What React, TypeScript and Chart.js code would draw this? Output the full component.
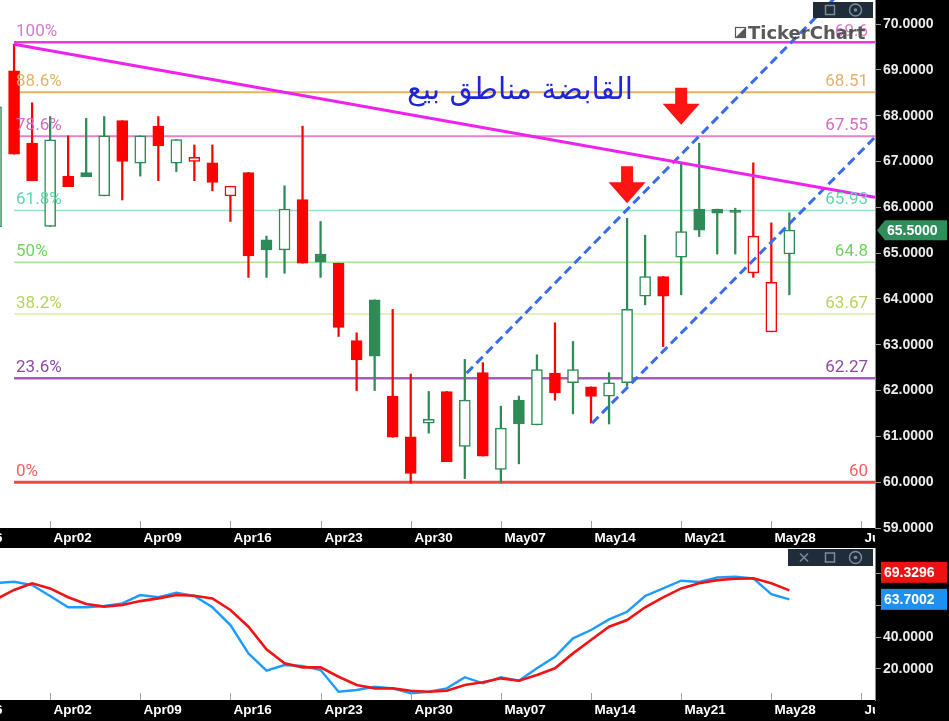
import React, { useEffect, useRef } from 'react';
import { Chart, registerables } from 'chart.js';

Chart.register(...registerables);

// ---------- DATA ----------
const dayIndex = [-1, 0, 1, 2, 3, 4, 5, 6, 7, 8, 9, 10, 11, 12, 13, 14, 15, 16, 17, 18, 19, 20, 21, 22, 23, 24, 25, 26, 27, 28, 29, 30, 31, 32, 33, 34, 35, 36, 37, 38, 39, 40, 41, 42, 43];
const opens = [65.57, 68.98, 67.40, 65.58, 66.68, 66.76, 66.25, 67.89, 66.96, 67.77, 66.96, 67.00, 66.97, 66.25, 66.76, 65.29, 65.07, 66.17, 64.98, 64.78, 63.09, 63.98, 61.88, 60.99, 61.29, 61.98, 60.78, 62.39, 60.28, 61.79, 61.25, 62.38, 62.17, 62.08, 61.88, 62.17, 64.06, 64.49, 64.91, 65.96, 65.96, 65.91, 64.57, 63.28, 64.98];
const highs = [68.40, 69.56, 68.28, 67.98, 67.56, 67.94, 67.98, 67.89, 67.56, 67.98, 67.48, 67.36, 67.36, 66.46, 66.76, 65.37, 66.47, 67.77, 65.69, 64.78, 63.26, 63.98, 63.77, 62.36, 61.98, 61.98, 62.68, 62.61, 61.66, 61.88, 62.78, 63.48, 63.07, 62.08, 62.39, 65.76, 65.39, 64.49, 66.96, 67.40, 65.96, 65.98, 66.97, 65.66, 65.88];
const lows = [65.40, 67.16, 66.58, 65.58, 66.45, 66.67, 66.25, 66.16, 66.68, 66.58, 66.78, 66.58, 66.36, 65.69, 64.47, 64.47, 64.56, 64.78, 64.47, 63.18, 62.00, 62.00, 60.98, 59.98, 61.07, 60.45, 60.08, 60.57, 59.98, 60.40, 61.25, 61.79, 61.49, 61.29, 61.27, 62.10, 63.87, 62.96, 64.09, 65.36, 64.98, 64.98, 64.47, 63.28, 64.09];
const closes = [68.19, 67.16, 66.58, 67.47, 66.45, 66.67, 67.56, 67.00, 67.56, 67.34, 67.48, 67.09, 66.54, 66.46, 64.94, 65.07, 65.96, 64.78, 64.80, 63.38, 62.67, 62.75, 60.98, 60.19, 61.37, 60.45, 61.79, 60.57, 61.18, 61.27, 62.46, 61.95, 62.46, 61.87, 62.17, 63.77, 64.49, 64.06, 65.47, 65.50, 65.87, 65.89, 65.37, 64.36, 65.50];

const stochK = [74.0, 74.8, 72.7, 65.8, 58.7, 58.7, 59.5, 61.2, 66.4, 65.0, 67.9, 65.8, 58.7, 47.5, 29.7, 18.8, 22.4, 21.8, 19.2, 5.6, 6.7, 8.7, 7.7, 4.6, 5.6, 7.7, 14.7, 10.9, 14.7, 12.5, 20.3, 27.6, 39.2, 44.4, 51.1, 55.9, 65.8, 70.6, 75.4, 74.6, 77.5, 77.9, 76.9, 67.0, 63.7002];
const stochD = [63.7, 69.6, 73.8, 70.6, 65.0, 60.8, 59.1, 60.1, 62.6, 64.3, 66.4, 66.0, 64.3, 57.0, 46.5, 32.3, 23.5, 20.9, 20.9, 15.0, 9.8, 7.7, 7.7, 6.2, 5.6, 6.2, 9.8, 11.5, 14.0, 12.5, 16.1, 20.3, 29.7, 38.1, 46.5, 50.7, 58.7, 65.0, 70.6, 73.8, 75.8, 76.7, 76.9, 73.8, 69.3296];

const dateTickIndex = [-3, 2, 7, 12, 17, 22, 27, 32, 37, 42, 47];
const dateTickLabels = ['Mar26', 'Apr02', 'Apr09', 'Apr16', 'Apr23', 'Apr30', 'May07', 'May14', 'May21', 'May28', 'Jun04'];
const priceTicks = [59, 60, 61, 62, 63, 64, 65, 66, 67, 68, 69, 70];
const oscTicks = [20, 40, 60, 80];

const fibValues = [69.6, 68.51, 67.55, 65.93, 64.8, 63.67, 62.27, 60];
const fibPercentLabels = ['100%', '88.6%', '78.6%', '61.8%', '50%', '38.2%', '23.6%', '0%'];
const fibValueLabels = ['69.6', '68.51', '67.55', '65.93', '64.8', '63.67', '62.27', '60'];

const trendX = [0, 47.75];
const trendY = [69.56, 66.22];
const channelUpperX = [25.1, 45.6];
const channelUpperY = [62.38, 70.6];
const channelLowerX = [32.06, 47.75];
const channelLowerY = [61.29, 67.53];

const arrowIndex = [34, 37];
const arrowTipPrice = [66.09, 67.80];

const lastPrice = 65.5;
const annotationText = 'القابضة مناطق بيع';
const annotationIndex = 28.06;
const annotationPrice = 68.36;

// ---------- STYLE ----------
const W = 949;
const MAIN_H = 548;
const OSC_H = 173;
const X_MIN = -0.78;
const X_MAX = 47.75;
const GREEN = '#2e8b57';
const RED = '#ff0000';
const fibLineColors = ['#e23fd2', '#e6b25e', '#e77fcf', '#93e2c6', '#a9e595', '#d9eea4', '#a45fb4', '#f04848'];
const fibLabelColors = ['#d77ac8', '#e2b36c', '#d46bbf', '#5fd5a8', '#6fd35c', '#b6d35e', '#8f4aa3', '#f06262'];
const fibLineWidths = [2.5, 2, 2, 1.5, 1.5, 1.5, 2.5, 3];

function candleColor(k: number) {
  if (k === 0) return GREEN;
  return closes[k] >= closes[k - 1] ? GREEN : RED;
}

function drawDateAxis(chart: any) {
  const { ctx, chartArea: ca, scales } = chart;
  const x = scales.x;
  ctx.save();
  ctx.beginPath();
  ctx.rect(0, 0, ca.right, chart.height);
  ctx.clip();
  ctx.strokeStyle = '#a0a0a0';
  ctx.lineWidth = 1;
  ctx.font = 'bold 13.5px "Liberation Sans", Arial, sans-serif';
  ctx.fillStyle = '#ffffff';
  ctx.textBaseline = 'middle';
  ctx.textAlign = 'left';
  dateTickIndex.forEach((d, k) => {
    const px = Math.round(x.getPixelForValue(d)) + 0.5;
    ctx.beginPath();
    ctx.moveTo(px, ca.bottom - 7);
    ctx.lineTo(px, ca.bottom);
    ctx.stroke();
    ctx.fillText(dateTickLabels[k], px + 3, ca.bottom + 10.5);
  });
  ctx.restore();
}

function drawToolbar(ctx: any, left: number, top: number, right: number, bottom: number, withClose: boolean) {
  ctx.save();
  ctx.fillStyle = '#1f2d3a';
  ctx.fillRect(left, top, right - left, bottom - top);
  ctx.strokeStyle = '#7d8b97';
  ctx.fillStyle = '#7d8b97';
  ctx.lineWidth = 1.5;
  const cy = (top + bottom) / 2;
  if (withClose) {
    ctx.beginPath();
    ctx.moveTo(800, cy - 4); ctx.lineTo(808, cy + 4);
    ctx.moveTo(808, cy - 4); ctx.lineTo(800, cy + 4);
    ctx.stroke();
  }
  ctx.strokeRect(825.5, cy - 4.5, 9, 9);
  ctx.beginPath();
  ctx.arc(855.5, cy, 6, 0, Math.PI * 2);
  ctx.stroke();
  ctx.beginPath();
  ctx.arc(855.5, cy, 1.8, 0, Math.PI * 2);
  ctx.fill();
  ctx.restore();
}

function drawDownArrow(ctx: any, cx: number, tipY: number) {
  const headH = 21, headW = 37, shaftW = 12, shaftH = 16;
  ctx.beginPath();
  ctx.moveTo(cx - shaftW / 2, tipY - headH - shaftH);
  ctx.lineTo(cx + shaftW / 2, tipY - headH - shaftH);
  ctx.lineTo(cx + shaftW / 2, tipY - headH);
  ctx.lineTo(cx + headW / 2, tipY - headH);
  ctx.lineTo(cx, tipY);
  ctx.lineTo(cx - headW / 2, tipY - headH);
  ctx.lineTo(cx - shaftW / 2, tipY - headH);
  ctx.closePath();
  ctx.fill();
}

const mainDecor = {
  id: 'mainDecor',
  beforeDraw(chart: any) {
    const { ctx, width, height, chartArea: ca } = chart;
    ctx.save();
    ctx.fillStyle = '#ffffff';
    ctx.fillRect(0, 0, width, height);
    ctx.fillStyle = '#000000';
    ctx.fillRect(ca.right, 0, width - ca.right, height);
    ctx.fillRect(0, ca.bottom, width, height - ca.bottom);
    ctx.restore();
  },
  beforeDatasetsDraw(chart: any) {
    const { ctx, chartArea: ca, scales } = chart;
    const x = scales.x, y = scales.y;
    ctx.save();
    ctx.beginPath();
    ctx.rect(ca.left, ca.top, ca.right - ca.left, ca.bottom - ca.top);
    ctx.clip();
    const x0 = x.getPixelForValue(0);
    fibValues.forEach((v, k) => {
      const py = y.getPixelForValue(v);
      ctx.strokeStyle = fibLineColors[k];
      ctx.lineWidth = fibLineWidths[k];
      ctx.beginPath();
      ctx.moveTo(x0, py);
      ctx.lineTo(ca.right, py);
      ctx.stroke();
    });
    ctx.restore();
  },
  afterDatasetsDraw(chart: any) {
    const { ctx, chartArea: ca, scales } = chart;
    const x = scales.x, y = scales.y;
    ctx.save();
    // fib labels
    ctx.font = '17px Roboto, "Open Sans", sans-serif';
    ctx.textBaseline = 'alphabetic';
    const x0 = x.getPixelForValue(0);
    fibValues.forEach((v, k) => {
      const py = y.getPixelForValue(v);
      ctx.fillStyle = fibLabelColors[k];
      ctx.textAlign = 'left';
      ctx.fillText(fibPercentLabels[k], x0 + 2, py - 6);
      ctx.textAlign = 'right';
      ctx.fillText(fibValueLabels[k], ca.right - 7, py - 6);
    });
    // arrows
    ctx.fillStyle = '#ff1414';
    arrowIndex.forEach((d, k) => {
      drawDownArrow(ctx, x.getPixelForValue(d), y.getPixelForValue(arrowTipPrice[k]));
    });
    // arabic annotation
    const targetW = 226;
    let size = 34;
    ctx.font = `${size}px "DejaVu Sans", sans-serif`;
    const mw = ctx.measureText(annotationText).width;
    if (mw > 0) size = size * targetW / mw;
    ctx.font = `${size}px "DejaVu Sans", sans-serif`;
    ctx.fillStyle = '#1f25d8';
    ctx.textAlign = 'center';
    ctx.textBaseline = 'alphabetic';
    ctx.fillText(annotationText, x.getPixelForValue(annotationIndex), y.getPixelForValue(annotationPrice));
    ctx.restore();
  },
  afterDraw(chart: any) {
    const { ctx, chartArea: ca, scales, width } = chart;
    const y = scales.y;
    drawDateAxis(chart);
    // watermark
    ctx.save();
    ctx.fillStyle = 'rgba(70,70,70,0.9)';
    ctx.strokeStyle = 'rgba(70,70,70,0.9)';
    ctx.lineWidth = 1.2;
    ctx.strokeRect(735.5, 27.5, 10, 10);
    ctx.beginPath();
    ctx.moveTo(736, 37); ctx.lineTo(745, 37); ctx.lineTo(745, 28); ctx.closePath();
    ctx.fill();
    ctx.font = 'bold 18px "DejaVu Sans", sans-serif';
    ctx.textAlign = 'left';
    ctx.textBaseline = 'alphabetic';
    ctx.fillText('TickerChart', 748, 39);
    ctx.restore();
    // toolbar
    drawToolbar(ctx, 813, 2, ca.right - 2, 18, false);
    // last price label
    const py = y.getPixelForValue(lastPrice);
    ctx.save();
    ctx.fillStyle = '#2f8f5b';
    ctx.beginPath();
    ctx.moveTo(877, py);
    ctx.lineTo(885, py - 10);
    ctx.lineTo(width - 2, py - 10);
    ctx.lineTo(width - 2, py + 10);
    ctx.lineTo(885, py + 10);
    ctx.closePath();
    ctx.fill();
    ctx.fillStyle = '#ffffff';
    ctx.font = 'bold 14px "Liberation Sans", Arial, sans-serif';
    ctx.textAlign = 'left';
    ctx.textBaseline = 'middle';
    ctx.fillText(lastPrice.toFixed(4), 887, py + 0.5);
    ctx.restore();
  },
};

const oscDecor = {
  id: 'oscDecor',
  beforeDraw(chart: any) {
    const { ctx, width, height, chartArea: ca } = chart;
    ctx.save();
    ctx.fillStyle = '#ffffff';
    ctx.fillRect(0, 0, width, height);
    ctx.fillStyle = '#000000';
    ctx.fillRect(ca.right, 0, width - ca.right, height);
    ctx.fillRect(0, ca.bottom, width, height - ca.bottom);
    ctx.restore();
  },
  afterDraw(chart: any) {
    const { ctx, chartArea: ca, scales } = chart;
    const y = scales.y;
    drawDateAxis(chart);
    drawToolbar(ctx, 788, 1, ca.right - 2, 18, true);
    const kVal = stochK[stochK.length - 1];
    const dVal = stochD[stochD.length - 1];
    const yK = y.getPixelForValue(kVal);
    let yD = y.getPixelForValue(dVal);
    if (Math.abs(yD - yK) < 27) yD = yK - 27;
    const boxes = [
      { v: dVal, py: yD, color: '#ee1111' },
      { v: kVal, py: yK, color: '#1e90f0' },
    ];
    ctx.save();
    ctx.font = 'bold 14px "Liberation Sans", Arial, sans-serif';
    ctx.textAlign = 'left';
    ctx.textBaseline = 'middle';
    boxes.forEach((b) => {
      ctx.fillStyle = b.color;
      ctx.fillRect(881, b.py - 10.5, 66, 21);
      ctx.fillStyle = '#ffffff';
      ctx.fillText(b.v.toFixed(4), 884, b.py + 0.5);
    });
    ctx.restore();
  },
};

const yAxisCommon = (ticks: number[]) => ({
  type: 'linear' as const,
  position: 'right' as const,
  afterFit: (s: any) => {
    s.width = 74;
    s.paddingTop = 0;
    s.paddingBottom = 0;
  },
  afterBuildTicks: (s: any) => {
    s.ticks = ticks.map((v) => ({ value: v }));
  },
  ticks: {
    color: '#ececec',
    font: { family: '"Liberation Sans", Arial, sans-serif', size: 14, weight: 'bold' as const },
    padding: 2,
    autoSkip: false,
    callback: (v: any) => Number(v).toFixed(4),
  },
  grid: { drawOnChartArea: false, drawTicks: true, tickLength: 6, color: '#9a9a9a' },
  border: { display: true, color: '#8a8a8a', width: 1 },
});

function buildMainConfig(): any {
  const colors = dayIndex.map((_, k) => candleColor(k));
  const fills = dayIndex.map((_, k) => (closes[k] > opens[k] ? '#ffffff' : colors[k]));
  return {
    type: 'bar',
    data: {
      datasets: [
        {
          type: 'line',
          label: 'trend',
          data: trendX.map((x, k) => ({ x, y: trendY[k] })),
          borderColor: '#ee22ee',
          borderWidth: 3,
          pointRadius: 0,
          fill: false,
          order: 0,
        },
        {
          type: 'line',
          label: 'channelUpper',
          data: channelUpperX.map((x, k) => ({ x, y: channelUpperY[k] })),
          borderColor: '#3a6cf0',
          borderWidth: 3,
          borderDash: [9, 5],
          pointRadius: 0,
          fill: false,
          order: 0,
        },
        {
          type: 'line',
          label: 'channelLower',
          data: channelLowerX.map((x, k) => ({ x, y: channelLowerY[k] })),
          borderColor: '#3a6cf0',
          borderWidth: 3,
          borderDash: [9, 5],
          pointRadius: 0,
          fill: false,
          order: 0,
        },
        {
          type: 'bar',
          label: 'body',
          data: dayIndex.map((d, k) => ({ x: d, y: [opens[k], closes[k]] })),
          backgroundColor: fills,
          borderColor: colors,
          borderWidth: 1.5,
          borderSkipped: false,
          barThickness: 11,
          minBarLength: 2,
          grouped: false,
          order: 1,
        },
        {
          type: 'bar',
          label: 'wick',
          data: dayIndex.map((d, k) => ({ x: d, y: [lows[k], highs[k]] })),
          backgroundColor: colors,
          borderWidth: 0,
          barThickness: 1.6,
          grouped: false,
          order: 2,
        },
      ],
    },
    options: {
      responsive: false,
      animation: false,
      events: [],
      layout: { padding: { left: 0, right: 0, top: 0, bottom: 20 } },
      plugins: { legend: { display: false }, tooltip: { enabled: false } },
      scales: {
        x: { type: 'linear', min: X_MIN, max: X_MAX, offset: false, display: false },
        y: { ...yAxisCommon(priceTicks), min: 59, max: 70.524 },
      },
    },
    plugins: [mainDecor],
  };
}

function buildOscConfig(): any {
  return {
    type: 'line',
    data: {
      datasets: [
        {
          label: '%D',
          data: dayIndex.map((d, k) => ({ x: d, y: stochD[k] })),
          borderColor: '#f01414',
          borderWidth: 2.6,
          pointRadius: 0,
          tension: 0,
          fill: false,
          order: 0,
        },
        {
          label: '%K',
          data: dayIndex.map((d, k) => ({ x: d, y: stochK[k] })),
          borderColor: '#1e9bff',
          borderWidth: 2.4,
          pointRadius: 0,
          tension: 0,
          fill: false,
          order: 1,
        },
      ],
    },
    options: {
      responsive: false,
      animation: false,
      events: [],
      layout: { padding: { left: 0, right: 0, top: 0, bottom: 21 } },
      plugins: { legend: { display: false }, tooltip: { enabled: false } },
      scales: {
        x: { type: 'linear', min: X_MIN, max: X_MAX, offset: false, display: false },
        y: { ...yAxisCommon(oscTicks), min: 0.38, max: 96 },
      },
    },
    plugins: [oscDecor],
  };
}

export default function App() {
  const mainRef = useRef<HTMLCanvasElement>(null);
  const oscRef = useRef<HTMLCanvasElement>(null);
  useEffect(() => {
    const main = new Chart(mainRef.current as HTMLCanvasElement, buildMainConfig());
    const osc = new Chart(oscRef.current as HTMLCanvasElement, buildOscConfig());
    return () => {
      main.destroy();
      osc.destroy();
    };
  }, []);
  return (
    <div style={{ position: 'absolute', left: 0, top: 0, width: W, height: 721, background: '#ffffff', overflow: 'hidden' }}>
      <canvas ref={mainRef} width={W} height={MAIN_H} style={{ display: 'block', width: W, height: MAIN_H }} />
      <canvas ref={oscRef} width={W} height={OSC_H} style={{ display: 'block', width: W, height: OSC_H }} />
    </div>
  );
}
